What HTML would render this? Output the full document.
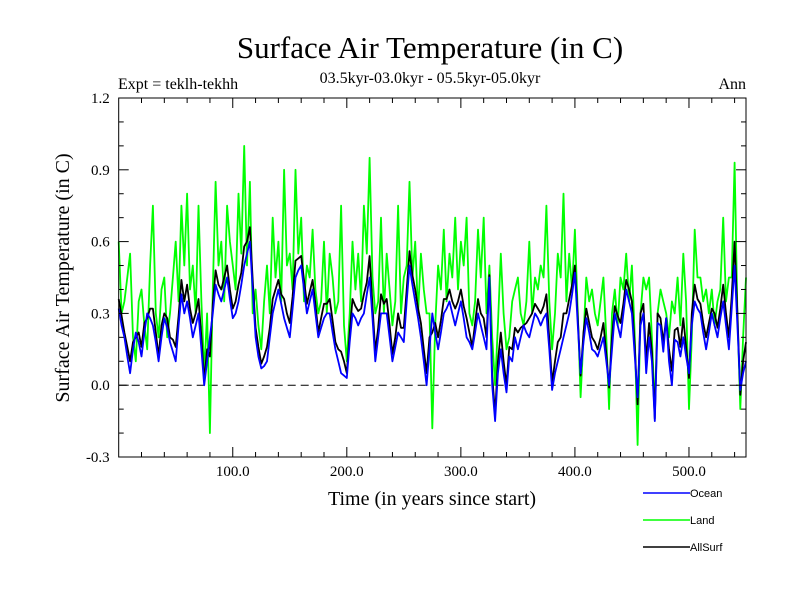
<!DOCTYPE html>
<html><head><meta charset="utf-8"><style>
body{margin:0;background:#fff;}
svg text{font-family:"Liberation Serif",serif;}
svg text.leg{font-family:"Liberation Sans",sans-serif;}
</style></head><body>
<svg id="c" width="800" height="600" xmlns="http://www.w3.org/2000/svg">
<text x="430" y="58" font-size="31" text-anchor="middle">Surface Air Temperature (in C)</text>
<text x="430" y="83" font-size="16" text-anchor="middle">03.5kyr-03.0kyr - 05.5kyr-05.0kyr</text>
<text x="118" y="89" font-size="16">Expt = teklh-tekhh</text>
<text x="746" y="89" font-size="16" text-anchor="end">Ann</text>
<text x="432" y="505" font-size="20" text-anchor="middle">Time (in years since start)</text>
<text transform="translate(69,278) rotate(-90)" font-size="20" text-anchor="middle">Surface Air Temperature (in C)</text>
<g id="plot"></g>
<g id="axes"></g>
<g>
<g><line x1="643" y1="493" x2="690" y2="493" stroke="#0000ff" stroke-width="1.5"/><text class="leg" x="690" y="497" font-size="11">Ocean</text></g>
<g><line x1="643" y1="520" x2="690" y2="520" stroke="#00ff00" stroke-width="1.5"/><text class="leg" x="690" y="524" font-size="11">Land</text></g>
<g><line x1="643" y1="547" x2="690" y2="547" stroke="#000" stroke-width="1.5"/><text class="leg" x="690" y="551" font-size="11">AllSurf</text></g>
</g>
</svg>
<script>
const years=[0,5,10,15,20,25,30,35,40,45,50,55,60,65,70,75,80,85,90,95,100,105,110,115,120,125,130,135,140,145,150,155,160,165,170,175,180,185,190,195,200,205,210,215,220,225,230,235,240,245,250,255,260,265,270,275,280,285,290,295,300,305,310,315,320,325,330,335,340,345,350,355,360,365,370,375,380,385,390,395,400,405,410,415,420,425,430,435,440,445,450,455,460,465,470,475,480,485,490,495,500,505,510,515,520,525,530,535,540,545,550];
const ocean=[0.32,0.2,0.05,0.22,0.12,0.3,0.25,0.1,0.28,0.18,0.1,0.38,0.35,0.2,0.3,0.0,0.2,0.42,0.35,0.45,0.28,0.35,0.5,0.6,0.2,0.07,0.1,0.3,0.4,0.28,0.2,0.45,0.5,0.3,0.4,0.2,0.28,0.3,0.15,0.05,0.03,0.3,0.25,0.3,0.45,0.1,0.3,0.3,0.1,0.22,0.18,0.5,0.35,0.2,0.0,0.3,0.15,0.3,0.35,0.25,0.35,0.2,0.15,0.3,0.2,0.45,-0.15,0.15,-0.03,0.1,0.15,0.25,0.2,0.3,0.25,0.3,-0.02,0.1,0.2,0.3,0.47,0.05,0.28,0.15,0.12,0.2,0.0,0.3,0.2,0.4,0.3,-0.05,0.3,0.2,-0.15,0.25,0.28,0.0,0.18,0.2,0.05,0.35,0.3,0.15,0.3,0.2,0.35,0.15,0.5,-0.02,0.1];
const oceanMid=[0.25,0.12,0.15,0.18,0.22,0.28,0.18,0.2,0.24,0.14,0.25,0.3,0.28,0.25,0.15,0.1,0.3,0.38,0.4,0.36,0.3,0.42,0.55,0.4,0.12,0.08,0.2,0.35,0.34,0.24,0.32,0.48,0.4,0.35,0.3,0.24,0.3,0.22,0.1,0.04,0.18,0.28,0.28,0.38,0.28,0.2,0.3,0.2,0.16,0.2,0.35,0.42,0.28,0.1,0.15,0.22,0.22,0.32,0.3,0.3,0.28,0.18,0.22,0.25,0.15,0.0,0.05,0.05,0.12,0.2,0.2,0.22,0.25,0.28,0.28,0.15,0.05,0.15,0.25,0.38,0.25,0.18,0.22,0.14,0.16,0.1,0.15,0.25,0.3,0.35,0.12,0.25,0.05,0.1,0.26,0.14,0.1,0.19,0.12,0.12,0.25,0.32,0.22,0.22,0.25,0.28,0.25,0.32,0.25,0.05];
const land=[0.6,0.35,0.55,0.1,0.4,0.15,0.75,0.2,0.45,0.3,0.6,0.75,0.8,0.5,0.75,0.05,-0.2,0.85,0.6,0.75,0.5,0.8,1.0,0.85,0.4,0.15,0.5,0.7,0.6,0.9,0.55,0.9,0.7,0.5,0.65,0.3,0.6,0.55,0.3,0.75,0.1,0.6,0.55,0.75,0.95,0.3,0.7,0.55,0.25,0.75,0.45,0.85,0.6,0.55,0.3,-0.18,0.5,0.65,0.55,0.7,0.6,0.7,0.25,0.65,0.7,0.5,0.0,0.55,0.15,0.35,0.45,0.25,0.6,0.45,0.5,0.75,0.15,0.55,0.8,0.55,0.65,-0.05,0.45,0.4,0.25,0.45,-0.1,0.4,0.45,0.55,0.5,-0.25,0.45,0.45,-0.1,0.4,0.3,0.35,0.45,0.55,-0.1,0.65,0.45,0.4,0.4,0.35,0.7,0.45,0.93,-0.1,0.45];
const landMid=[0.3,0.45,0.2,0.35,0.25,0.5,0.3,0.4,0.2,0.45,0.35,0.5,0.4,0.3,0.35,0.3,0.4,0.5,0.35,0.6,0.4,0.55,0.5,0.3,0.25,0.35,0.3,0.45,0.35,0.5,0.4,0.55,0.35,0.45,0.4,0.35,0.3,0.45,0.35,0.25,0.3,0.4,0.35,0.55,0.45,0.35,0.3,0.4,0.35,0.3,0.5,0.45,0.3,0.4,0.3,0.25,0.4,0.35,0.45,0.4,0.5,0.3,0.35,0.45,0.3,0.2,0.25,0.3,0.2,0.4,0.3,0.35,0.3,0.4,0.45,0.35,0.3,0.45,0.35,0.4,0.3,0.2,0.35,0.3,0.35,0.2,0.3,0.25,0.4,0.35,0.2,0.3,0.4,0.2,0.3,0.35,0.2,0.3,0.25,0.35,0.2,0.45,0.35,0.3,0.25,0.4,0.35,0.45,0.3,0.2];
const allsurf=[0.36,0.22,0.1,0.2,0.16,0.28,0.32,0.12,0.3,0.2,0.16,0.44,0.42,0.26,0.36,0.02,0.12,0.48,0.4,0.5,0.32,0.42,0.58,0.66,0.24,0.09,0.16,0.36,0.44,0.36,0.26,0.52,0.54,0.34,0.44,0.22,0.34,0.36,0.18,0.14,0.05,0.36,0.31,0.38,0.54,0.14,0.38,0.36,0.13,0.3,0.24,0.56,0.4,0.26,0.05,0.22,0.2,0.36,0.4,0.32,0.4,0.28,0.16,0.36,0.28,0.46,-0.12,0.22,0.0,0.15,0.22,0.25,0.28,0.34,0.3,0.38,0.01,0.18,0.3,0.36,0.5,0.04,0.32,0.2,0.15,0.26,-0.01,0.33,0.26,0.44,0.35,-0.08,0.34,0.26,-0.14,0.28,0.28,0.06,0.24,0.28,0.03,0.42,0.34,0.2,0.32,0.24,0.42,0.2,0.6,-0.04,0.18];
const allsurfMid=[0.29,0.16,0.18,0.22,0.26,0.32,0.22,0.25,0.28,0.19,0.29,0.35,0.32,0.3,0.2,0.15,0.34,0.42,0.45,0.4,0.35,0.47,0.6,0.44,0.16,0.12,0.24,0.4,0.38,0.3,0.37,0.53,0.44,0.39,0.34,0.28,0.34,0.27,0.15,0.1,0.22,0.33,0.32,0.43,0.33,0.24,0.34,0.25,0.2,0.24,0.4,0.46,0.32,0.15,0.2,0.26,0.27,0.36,0.35,0.35,0.33,0.22,0.26,0.3,0.2,0.04,0.1,0.1,0.16,0.24,0.24,0.26,0.3,0.32,0.33,0.19,0.1,0.2,0.3,0.42,0.28,0.22,0.26,0.18,0.2,0.13,0.2,0.29,0.34,0.4,0.16,0.3,0.1,0.14,0.3,0.18,0.15,0.23,0.16,0.16,0.3,0.36,0.26,0.26,0.3,0.32,0.3,0.37,0.3,0.1];
const yTicks=[-0.3,0.0,0.3,0.6,0.9,1.2];
const yTickLabels=["-0.3","0.0","0.3","0.6","0.9","1.2"];
const xTicks=[100,200,300,400,500];
const xTickLabels=["100.0","200.0","300.0","400.0","500.0"];
const L=118.7,R=746,T=98,B=457,x0=0,x1=550,y0=-0.3,y1=1.2;
const xs=v=>L+(v-x0)/(x1-x0)*(R-L);
const ys=v=>B-(v-y0)/(y1-y0)*(B-T);
const NS="http://www.w3.org/2000/svg";
function mk(t,a,p){const e=document.createElementNS(NS,t);for(const k in a)e.setAttribute(k,a[k]);p.appendChild(e);return e;}
const plot=document.getElementById('plot'),axes=document.getElementById('axes');
const z=mk('line',{x1:L,x2:R,y1:ys(0),y2:ys(0),stroke:'#000','stroke-dasharray':'8,5','stroke-width':1},plot);


function series(arr,mid,col,name){const pts=[];
arr.forEach((v,i)=>{pts.push([years[i],v]);if(i<arr.length-1&&mid[i]!==undefined)pts.push([(years[i]+years[i+1])/2,mid[i]]);});
const d=pts.map((p,i)=>(i?'L':'M')+xs(p[0]).toFixed(1)+','+ys(p[1]).toFixed(1)).join('');
const p=mk('path',{d:d,fill:'none',stroke:col,'stroke-width':1.8,'stroke-linejoin':'round'},plot);

}
series(land,landMid,'#00ff00','land-line');
series(allsurf,allsurfMid,'#000000','allsurf-line');
series(ocean,oceanMid,'#0000ff','ocean-line');
const fr=mk('rect',{x:L,y:T,width:R-L,height:B-T,fill:'none',stroke:'#000','stroke-width':1},axes);


for(let v=20;v<x1;v+=20){const len=(v%100===0)?10:5;
mk('line',{x1:xs(v),x2:xs(v),y1:B,y2:B-len,stroke:'#000'},axes);
mk('line',{x1:xs(v),x2:xs(v),y1:T,y2:T+len,stroke:'#000'},axes);}
for(let k=-2;k<12;k++){const v=k/10;const len=(k%3===0)?10:5;
mk('line',{x1:L,x2:L+len,y1:ys(v),y2:ys(v),stroke:'#000'},axes);
mk('line',{x1:R,x2:R-len,y1:ys(v),y2:ys(v),stroke:'#000'},axes);}
xTicks.forEach((v,i)=>{const t=mk('text',{x:xs(v),y:B+19,'font-size':15,'text-anchor':'middle'},axes);t.textContent=xTickLabels[i];

});
yTicks.forEach((v,i)=>{const t=mk('text',{x:L-9,y:ys(v)+5,'font-size':15,'text-anchor':'end'},axes);t.textContent=yTickLabels[i];

});
</script>
</body></html>
